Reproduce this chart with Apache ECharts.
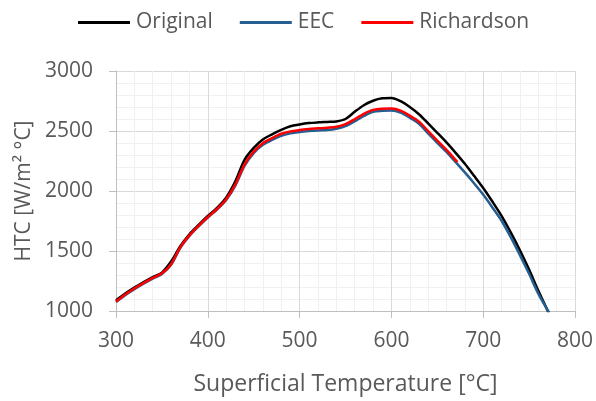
<!DOCTYPE html>
<html>
<head>
<meta charset="utf-8">
<script src="https://cdn.jsdelivr.net/npm/echarts@6/dist/echarts.min.js"></script>
<style>
html,body{margin:0;padding:0;background:#fff;}
#chart{width:596px;height:401px;}
</style>
</head>
<body>
<div id="chart"></div>
<script>
// Temperatures (°C)
const tempsOriginal = [300,310,320,330,340,350,360,370,380,390,400,410,420,430,440,450,460,470,480,490,500,510,520,530,540,550,560,570,580,590,600,610,620,630,640,650,660,670,680,690,700,710,720,730,740,750,760,771];
const htcOriginal   = [1088,1145,1195,1240,1283,1320,1412,1540,1640,1718,1792,1860,1945,2080,2260,2360,2430,2472,2510,2540,2555,2566,2572,2576,2580,2600,2660,2715,2752,2772,2775,2748,2700,2640,2563,2485,2405,2318,2227,2127,2025,1912,1793,1655,1506,1345,1170,990];

const tempsEEC = [300,310,320,330,340,350,360,370,380,390,400,410,420,430,440,450,460,470,480,490,500,510,520,530,540,550,560,570,580,590,600,610,620,630,640,650,660,670,680,690,700,710,720,730,740,750,760,772];
const htcEEC   = [1075,1132,1182,1228,1270,1308,1385,1525,1625,1705,1778,1845,1925,2045,2210,2315,2385,2425,2460,2480,2492,2500,2505,2508,2518,2540,2580,2625,2660,2668,2670,2653,2610,2560,2480,2402,2325,2240,2155,2065,1970,1863,1752,1615,1465,1310,1145,985];

const tempsRichardson = [300,310,320,330,340,350,360,370,380,390,400,410,420,430,440,450,460,470,480,490,500,510,520,530,540,550,560,570,580,590,600,610,620,630,640,650,660,670,672];
const htcRichardson   = [1080,1138,1188,1233,1276,1314,1390,1530,1630,1710,1783,1850,1932,2055,2222,2328,2398,2440,2477,2497,2508,2516,2522,2528,2536,2558,2598,2643,2676,2686,2687,2670,2628,2578,2500,2420,2342,2258,2241];

const seriesNames = ['Original','EEC','Richardson'];
const xTicks = {min:300, max:800, step:100};
const yTicks = {min:1000, max:3000, step:500};

const pair = (xs, ys) => xs.map((x,i)=>[x, ys[i]]);
const FONT = '"Open Sans", "Noto Sans", sans-serif';
const TXT = '#595959';

const chart = echarts.init(document.getElementById('chart'), null, {renderer:'canvas'});
chart.setOption({
  animation:false,
  backgroundColor:'#ffffff',
  textStyle:{fontFamily:FONT},
  legend:{
    top:12, left:78, padding:0,
    itemWidth:52, itemHeight:3, itemGap:27,
    icon:'rect',
    textStyle:{fontFamily:FONT, fontSize:21, color:TXT, padding:[0,0,0,1]},
    data:seriesNames
  },
  grid:{left:116, right:19, top:71, bottom:86, containLabel:false},
  xAxis:{
    type:'value', min:xTicks.min, max:xTicks.max, interval:xTicks.step,
    name:'Superficial Temperature [°C]', nameLocation:'middle', nameGap:62,
    nameTextStyle:{fontFamily:FONT, fontSize:23, color:TXT},
    axisLine:{show:true, onZero:false, lineStyle:{color:'#bfbfbf', width:1}},
    axisTick:{show:true, length:7, lineStyle:{color:'#bfbfbf'}},
    axisLabel:{fontFamily:FONT, fontSize:21, color:TXT, margin:20, formatter:v=>String(v)},
    splitLine:{show:true, lineStyle:{color:'#d9d9d9', width:1}},
    minorTick:{show:false, splitNumber:5},
    minorSplitLine:{show:true, lineStyle:{color:'#f0f0f0', width:1}}
  },
  yAxis:{
    type:'value', min:yTicks.min, max:yTicks.max, interval:yTicks.step,
    name:'HTC [W/m² °C]', nameLocation:'middle', nameGap:80,
    nameTextStyle:{fontFamily:FONT, fontSize:21, color:TXT},
    axisLine:{show:true, onZero:false, lineStyle:{color:'#bfbfbf', width:1}},
    axisTick:{show:true, length:7, lineStyle:{color:'#bfbfbf'}},
    axisLabel:{fontFamily:FONT, fontSize:21, color:TXT, margin:23, formatter:v=>String(v)},
    splitLine:{show:true, lineStyle:{color:'#d9d9d9', width:1}},
    minorTick:{show:false, splitNumber:5},
    minorSplitLine:{show:true, lineStyle:{color:'#f0f0f0', width:1}}
  },
  series:[
    {name:seriesNames[0], type:'line', data:pair(tempsOriginal, htcOriginal), smooth:0.3, symbol:'none', lineStyle:{color:'#000000', width:2.5}, itemStyle:{color:'#000000'}},
    {name:seriesNames[1], type:'line', data:pair(tempsEEC, htcEEC), smooth:0.3, symbol:'none', lineStyle:{color:'#255E91', width:2.5}, itemStyle:{color:'#255E91'}},
    {name:seriesNames[2], type:'line', data:pair(tempsRichardson, htcRichardson), smooth:0.3, symbol:'none', lineStyle:{color:'#FF0000', width:2.5}, itemStyle:{color:'#FF0000'}}
  ]
});
</script>
</body>
</html>
